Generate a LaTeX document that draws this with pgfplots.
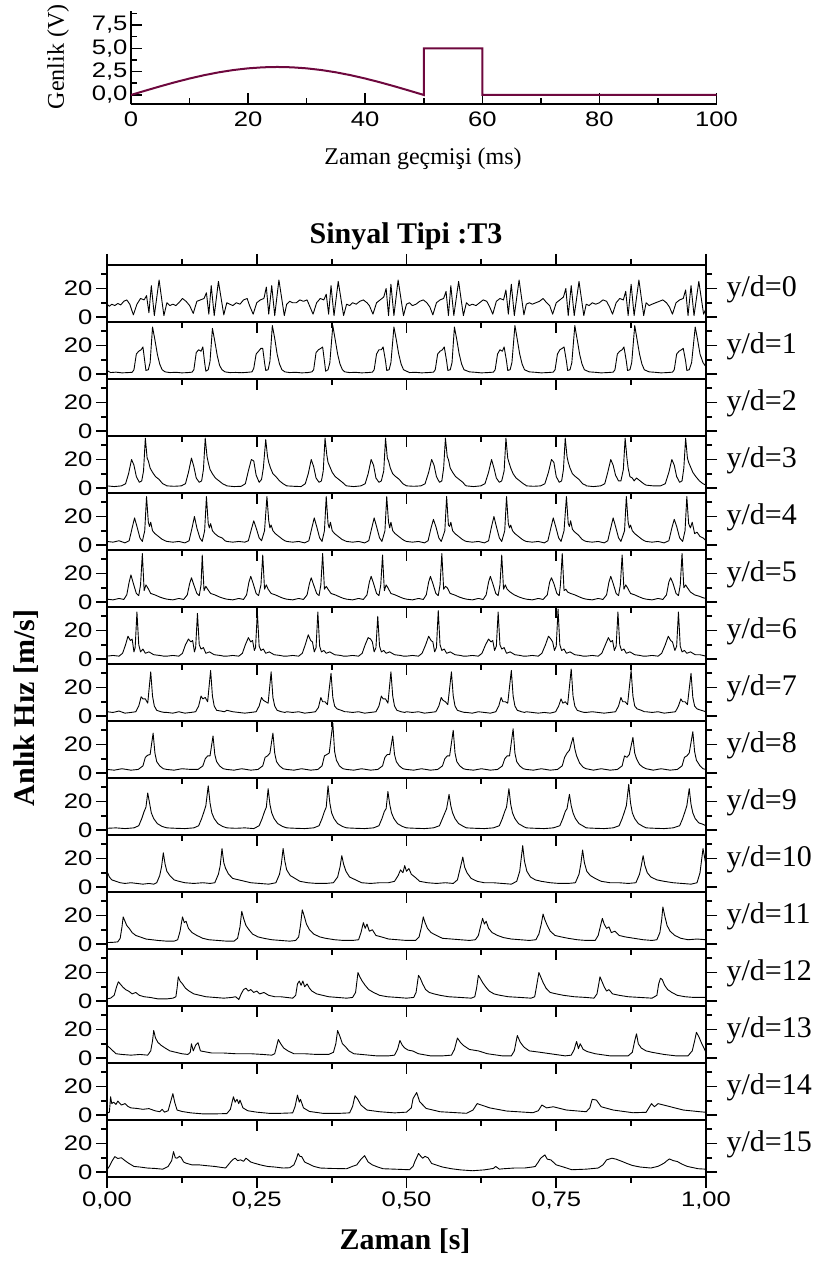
\documentclass[border=0pt]{standalone}
\usepackage{fontspec}
\setmainfont{Liberation Serif}
\newfontfamily\sansf{Liberation Sans}
\usepackage{graphicx}
\usepackage{pgfplots}
\pgfplotsset{compat=1.18}
\definecolor{maroon}{RGB}{110,8,62}
\pgfplotsset{
  panel/.style={
    scale only axis, width=599pt, height=57pt, anchor=south west,
    xmin=0, xmax=1, ymin=-3.5, ymax=36.5,
    xtick={0,0.25,0.5,0.75,1},
    minor xtick={0.125,0.375,0.625,0.875},
    ytick={0,20}, minor ytick={10,30},
    tick align=outside, xtick pos=left, ytick pos=both, yticklabel pos=left,
    major tick length=11pt, minor tick length=6pt,
    axis line style={line width=2.2pt},
    every tick/.style={black, line width=1.8pt},
    tick label style={font=\sansf\fontsize{21}{21}\selectfont},
    /pgf/number format/assume math mode=true,
    yticklabel={\scalebox{1.22}[1]{\pgfmathprintnumber{\tick}}},
    clip=false,
  },
  nolab/.style={xticklabels={}},
  sig/.style={black, line width=0.9pt, line join=round},
}
\newcommand{\yd}[1]{\node[anchor=west, xshift=17pt, font=\fontsize{30}{30}\selectfont] at (rel axis cs:1,0.57) {#1};}
\begin{document}
\begin{tikzpicture}[x=1pt,y=1pt]
\useasboundingbox (0,0) rectangle (819,1262);

% ---------- top excitation plot ----------
\begin{axis}[scale only axis, width=585.5pt, height=93.3pt, at={(131pt,1157.7pt)}, anchor=south west,
  xmin=0, xmax=100, ymin=-1, ymax=9,
  axis x line*=bottom, axis y line*=left, axis line style={line width=2pt,-},
  tick align=inside, xtick={0,20,40,60,80,100}, minor xtick={10,30,50,70,90},
  ytick={0,2.5,5,7.5}, minor ytick={1.25,3.75,6.25,8.75},
  major tick length=11pt, minor tick length=6pt,
  every tick/.style={black, line width=1.6pt},
  tick label style={font=\sansf\fontsize{21}{21}\selectfont},
  xticklabel style={yshift=-4pt},
  /pgf/number format/assume math mode=true,
  xticklabel={\scalebox{1.22}[1]{\pgfmathprintnumber{\tick}}},
  yticklabel={\scalebox{1.22}[1]{\pgfmathprintnumber[fixed,fixed zerofill,precision=1,use comma]{\tick}}},
  clip=false]
\addplot[maroon, line width=2pt] coordinates {(0,0)(2.5,0.469)(5,0.927)(7.5,1.362)(10,1.763)(12.5,2.121)(15,2.427)(17.5,2.673)(20,2.853)(22.5,2.963)(25,3)(27.5,2.963)(30,2.853)(32.5,2.673)(35,2.427)(37.5,2.121)(40,1.763)(42.5,1.362)(45,0.927)(47.5,0.469)(50,0)(50,5)(60,5)(60,0)(100,0)};
\end{axis}

% ---------- panel 0 ----------
\begin{axis}[panel, nolab, xtick pos=both, at={(107pt,940pt)}]
\addplot[sig] coordinates {(0.000,9)(0.004,7.5)(0.008,9)(0.013,8)(0.018,9.5)(0.023,8.5)(0.028,11)(0.033,12)(0.038,9)(0.044,1.5)(0.050,9)(0.056,13)(0.062,12)(0.066,15)(0.070,3)(0.074,22)(0.079,1)(0.087,26)(0.095,1)
(0.100,10)(0.105,8)(0.110,9)(0.115,8)(0.120,10)(0.126,13)(0.132,11)(0.138,8)(0.144,2.5)(0.150,11)(0.156,12)(0.162,13)(0.166,17)(0.170,2)(0.174,22)(0.179,1)(0.186,25)(0.195,1.5)
(0.200,10)(0.205,9)(0.210,8)(0.216,10)(0.222,9)(0.228,12)(0.234,13)(0.238,8)(0.244,2)(0.250,10)(0.256,12)(0.262,13)(0.266,21)(0.270,2)(0.275,22)(0.280,1)(0.287,26)(0.296,1)
(0.300,9)(0.305,11)(0.310,10)(0.316,10)(0.322,12)(0.328,11)(0.334,12)(0.338,8)(0.344,2)(0.350,10)(0.356,13)(0.362,12)(0.366,16)(0.370,2)(0.374,22)(0.379,1)(0.386,25)(0.395,1)
(0.400,9)(0.405,8)(0.410,10)(0.416,9)(0.422,11)(0.428,12)(0.434,10)(0.438,8)(0.444,2)(0.450,10)(0.456,12)(0.462,14)(0.466,20)(0.470,1)(0.474,23)(0.479,1)(0.486,26)(0.495,1)
(0.500,9)(0.505,10)(0.510,8)(0.516,9)(0.522,11)(0.528,12)(0.534,10)(0.539,7)(0.544,1.5)(0.550,10)(0.556,12)(0.562,13)(0.566,18)(0.570,1)(0.574,22)(0.579,1)(0.587,25)(0.595,1)
(0.600,10)(0.605,8)(0.610,9)(0.616,8)(0.622,10)(0.628,12)(0.634,11)(0.639,7)(0.644,2)(0.650,11)(0.656,13)(0.662,12)(0.666,19)(0.670,2)(0.675,23)(0.680,1)(0.688,26)(0.696,1.5)
(0.700,9)(0.705,10)(0.710,9)(0.716,10)(0.722,11)(0.728,13)(0.734,10)(0.739,8)(0.744,2)(0.750,10)(0.756,12)(0.762,14)(0.766,20)(0.770,1)(0.775,22)(0.780,1)(0.788,25)(0.796,1)
(0.800,9)(0.805,8)(0.810,10)(0.816,9)(0.822,10)(0.828,12)(0.834,11)(0.839,7)(0.844,2)(0.850,10)(0.856,13)(0.862,12)(0.866,18)(0.870,1)(0.875,23)(0.880,1)(0.888,26)(0.896,1)
(0.900,10)(0.905,8)(0.910,9)(0.916,10)(0.922,11)(0.928,12)(0.934,10)(0.939,7)(0.944,2)(0.950,10)(0.956,12)(0.962,13)(0.966,19)(0.970,1)(0.975,22)(0.980,1)(0.988,25)(0.996,2)(1.000,6)};
\yd{y/d=0}
\end{axis}

% ---------- panel 1 ----------
\begin{axis}[panel, nolab, at={(107pt,883pt)}]
\addplot[sig] coordinates {(0.000,2.5)(0.006,1)(0.015,1.3)(0.025,0.8)(0.035,1)(0.042,1.2)(0.045,3)(0.049,14)(0.053,16)(0.057,17)(0.060,19)(0.063,9)(0.065,2.5)(0.069,3)(0.072,8)(0.076,33)(0.080,24)(0.084,14)(0.088,7)(0.092,3)(0.097,1.5)
(0.105,1)(0.115,1.2)(0.125,0.8)(0.135,1)(0.142,1.3)(0.145,3)(0.149,15)(0.153,17)(0.157,16)(0.160,19)(0.163,8)(0.165,2)(0.169,3)(0.172,9)(0.176,32)(0.180,23)(0.184,13)(0.188,6)(0.192,3)(0.197,1.5)
(0.205,1)(0.215,1.1)(0.225,0.9)(0.235,1.2)(0.242,1.5)(0.245,4)(0.249,14)(0.253,16)(0.257,18)(0.260,18)(0.263,8)(0.265,2.5)(0.269,3)(0.272,9)(0.276,34)(0.280,25)(0.284,14)(0.288,7)(0.292,3)(0.297,1.5)
(0.305,1)(0.315,1.2)(0.325,0.8)(0.335,1)(0.342,1.5)(0.345,3)(0.349,15)(0.353,17)(0.357,18)(0.360,19)(0.363,9)(0.365,2)(0.369,3)(0.372,8)(0.377,34)(0.381,24)(0.385,14)(0.389,7)(0.393,3)(0.397,1.5)
(0.405,1)(0.415,1.2)(0.425,0.8)(0.435,1)(0.443,1.3)(0.446,3)(0.450,14)(0.454,17)(0.458,17)(0.461,19)(0.465,9)(0.467,2.5)(0.471,3)(0.474,8)(0.479,33)(0.483,24)(0.487,14)(0.491,7)(0.495,3)
(0.505,1)(0.515,1.2)(0.525,0.8)(0.535,1)(0.545,1.3)(0.548,3)(0.552,14)(0.556,16)(0.560,17)(0.563,19)(0.567,9)(0.569,2.5)(0.573,3)(0.576,8)(0.580,33)(0.584,24)(0.588,14)(0.592,7)(0.596,3)
(0.605,1.5)(0.615,1.2)(0.625,0.8)(0.635,1)(0.645,1.3)(0.648,3)(0.652,14)(0.656,17)(0.660,16)(0.663,19)(0.667,9)(0.669,2.5)(0.673,3)(0.676,8)(0.681,34)(0.685,24)(0.689,14)(0.693,7)(0.697,3)
(0.705,1.5)(0.715,1.2)(0.725,0.8)(0.735,1)(0.745,1.3)(0.748,3)(0.752,14)(0.756,17)(0.760,18)(0.763,19)(0.767,9)(0.769,2.5)(0.773,3)(0.776,8)(0.781,34)(0.785,24)(0.789,14)(0.793,7)(0.797,3)
(0.805,1.5)(0.815,1.2)(0.825,0.8)(0.835,1)(0.845,1.3)(0.848,3)(0.852,14)(0.856,16)(0.860,17)(0.863,19)(0.867,9)(0.869,2.5)(0.873,3)(0.876,8)(0.881,34)(0.885,24)(0.889,14)(0.893,7)(0.897,3)
(0.905,1.5)(0.915,1.2)(0.925,0.8)(0.935,1)(0.944,1.3)(0.947,3)(0.951,14)(0.955,16)(0.959,17)(0.962,18)(0.966,9)(0.968,2.5)(0.972,3)(0.976,8)(0.982,33)(0.986,24)(0.990,14)(0.995,8)(1.000,5)};
\yd{y/d=1}
\end{axis}

% ---------- panel 2 (no data) ----------
\begin{axis}[panel, nolab, at={(107pt,826pt)}]
\yd{y/d=2}
\end{axis}

% ---------- panel 3 ----------
\begin{axis}[panel, nolab, at={(107pt,769pt)}]
\addplot[sig] coordinates {(0.000,1.5)(0.012,1)(0.024,1.5)(0.031,3)(0.036,10)(0.041,20)(0.045,16)(0.049,8)(0.054,4)(0.058,5)(0.061,12)(0.064,35)(0.067,21)(0.069,19)(0.072,14)(0.076,11)(0.081,8)(0.087,6)(0.093,3)(0.098,2)
(0.100,1.5)(0.112,1.2)(0.124,1.5)(0.131,3)(0.136,11)(0.141,21)(0.145,15)(0.149,7)(0.154,4)(0.158,5)(0.161,13)(0.164,35)(0.167,22)(0.169,18)(0.172,13)(0.176,10)(0.181,7)(0.187,5)(0.193,3)(0.198,2)
(0.200,1.5)(0.212,1)(0.224,1.2)(0.231,3)(0.236,12)(0.241,20)(0.245,19)(0.249,9)(0.254,4)(0.258,6)(0.261,14)(0.265,34)(0.268,22)(0.270,18)(0.273,14)(0.277,10)(0.282,8)(0.288,5)(0.294,3)(0.298,2)
(0.300,1.5)(0.312,1.2)(0.324,1)(0.331,3)(0.336,10)(0.341,20)(0.345,15)(0.349,7)(0.354,4)(0.358,5)(0.361,12)(0.364,35)(0.367,23)(0.369,18)(0.372,15)(0.376,11)(0.381,8)(0.387,6)(0.393,4)(0.398,2)
(0.400,1.5)(0.412,1)(0.424,1.5)(0.431,3)(0.436,10)(0.441,20)(0.445,16)(0.449,7)(0.454,4)(0.458,5)(0.462,12)(0.465,35)(0.468,21)(0.470,19)(0.473,14)(0.477,10)(0.482,8)(0.488,6)(0.494,3)(0.498,2)
(0.500,1.5)(0.512,1.2)(0.524,1.5)(0.531,3)(0.537,11)(0.542,20)(0.546,16)(0.550,8)(0.555,4)(0.559,5)(0.562,14)(0.565,35)(0.568,22)(0.570,20)(0.573,14)(0.577,11)(0.582,8)(0.588,6)(0.594,4)(0.598,2)
(0.600,1.5)(0.612,1)(0.624,1.5)(0.631,3)(0.637,11)(0.642,20)(0.646,14)(0.650,7)(0.655,4)(0.659,5)(0.663,12)(0.666,35)(0.669,21)(0.671,18)(0.674,14)(0.678,10)(0.683,7)(0.689,5)(0.695,3)(0.699,2)
(0.700,1.5)(0.712,1.2)(0.724,1.5)(0.731,3)(0.737,11)(0.742,20)(0.746,18)(0.750,8)(0.755,4)(0.759,5)(0.762,13)(0.765,35)(0.768,22)(0.770,18)(0.773,14)(0.777,10)(0.782,8)(0.788,6)(0.794,3)(0.799,2)
(0.800,1.5)(0.812,1)(0.824,1.5)(0.831,3)(0.836,11)(0.841,20)(0.845,16)(0.849,9)(0.854,5)(0.858,5)(0.862,13)(0.865,35)(0.868,21)(0.870,14)(0.873,8)(0.877,7)(0.880,5)(0.884,7)(0.890,5)(0.896,3)
(0.900,2)(0.912,1.5)(0.924,1.5)(0.932,3)(0.938,11)(0.943,20)(0.947,16)(0.951,8)(0.956,4)(0.960,5)(0.963,14)(0.966,35)(0.969,21)(0.971,18)(0.974,15)(0.978,11)(0.983,8)(0.989,5)(0.995,3)(1.000,2)};
\yd{y/d=3}
\end{axis}

% ---------- panel 4 ----------
\begin{axis}[panel, nolab, at={(107pt,712pt)}]
\addplot[sig] coordinates {(0.000,2.5)(0.010,2)(0.020,3)(0.030,1.5)(0.037,3)(0.042,12)(0.046,19)(0.050,13)(0.055,5)(0.059,2.5)(0.063,10)(0.066,34)(0.069,16)(0.071,13)(0.073,16)(0.076,10)(0.080,8)(0.086,6)(0.092,4)(0.097,3)
(0.100,2.5)(0.110,2)(0.120,2.5)(0.130,1.5)(0.137,3)(0.142,12)(0.146,20)(0.150,12)(0.155,5)(0.159,2.5)(0.163,10)(0.166,34)(0.169,15)(0.171,12)(0.173,15)(0.176,10)(0.180,8)(0.186,6)(0.192,5)(0.197,3)
(0.200,2.5)(0.210,2)(0.220,2.5)(0.230,2)(0.236,3)(0.241,11)(0.245,17)(0.249,12)(0.254,5)(0.258,3)(0.263,10)(0.267,34)(0.270,17)(0.272,12)(0.274,14)(0.277,10)(0.281,8)(0.287,6)(0.293,4)(0.297,3)
(0.300,2.5)(0.310,2)(0.320,2.5)(0.330,1.5)(0.337,3)(0.342,12)(0.346,19)(0.350,13)(0.355,5)(0.359,2.5)(0.363,10)(0.366,34)(0.369,15)(0.371,12)(0.373,16)(0.376,10)(0.380,8)(0.386,6)(0.392,4)(0.397,3)
(0.400,2.5)(0.410,2)(0.420,2.5)(0.430,1.5)(0.437,3)(0.442,12)(0.446,19)(0.450,13)(0.455,5)(0.459,2.5)(0.464,10)(0.467,34)(0.470,16)(0.472,12)(0.474,16)(0.477,10)(0.481,8)(0.487,6)(0.493,4)(0.497,3)
(0.500,2.5)(0.510,2)(0.520,2.5)(0.530,1.5)(0.536,3)(0.541,12)(0.545,18)(0.549,13)(0.554,5)(0.558,2.5)(0.564,10)(0.567,34)(0.570,14)(0.572,13)(0.574,16)(0.577,10)(0.581,8)(0.587,6)(0.593,4)(0.597,3)
(0.600,2.5)(0.610,2)(0.620,2.5)(0.630,1.5)(0.637,3)(0.642,13)(0.646,20)(0.650,13)(0.655,5)(0.659,2.5)(0.664,10)(0.667,34)(0.670,15)(0.672,12)(0.674,14)(0.677,10)(0.681,8)(0.687,6)(0.693,4)(0.697,3)
(0.700,2.5)(0.710,2)(0.720,2.5)(0.730,1.5)(0.736,3)(0.741,12)(0.745,19)(0.749,13)(0.754,5)(0.758,2.5)(0.763,10)(0.767,34)(0.770,15)(0.772,13)(0.774,17)(0.777,11)(0.781,9)(0.787,7)(0.793,4)(0.797,3)
(0.800,2.5)(0.810,2)(0.820,2.5)(0.830,1.5)(0.836,3)(0.841,12)(0.845,19)(0.849,13)(0.854,5)(0.858,2.5)(0.864,10)(0.867,34)(0.870,16)(0.872,12)(0.874,14)(0.877,10)(0.881,8)(0.887,6)(0.893,4)(0.897,3)
(0.900,2.5)(0.910,2)(0.920,2.5)(0.930,1.5)(0.938,3)(0.943,12)(0.947,18)(0.951,13)(0.956,5)(0.961,2.5)(0.965,10)(0.968,34)(0.971,15)(0.974,12)(0.977,16)(0.981,8)(0.985,9)(0.990,6)(0.995,5)(1.000,3)};
\yd{y/d=4}
\end{axis}

% ---------- panel 5 ----------
\begin{axis}[panel, nolab, at={(107pt,655pt)}]
\addplot[sig] coordinates {(0.000,2)(0.010,1.5)(0.020,2.5)(0.028,1.8)(0.033,5)(0.037,14)(0.040,19)(0.044,13)(0.049,6)(0.053,4.5)(0.056,12)(0.059,34)(0.062,8)(0.065,12)(0.068,10)(0.073,6)(0.080,5)(0.088,3.5)(0.095,2.5)
(0.100,2)(0.110,1.5)(0.120,2.5)(0.128,1.8)(0.134,5)(0.138,13)(0.141,17)(0.145,12)(0.150,6)(0.154,4.5)(0.157,12)(0.159,33)(0.162,8)(0.165,11)(0.168,9)(0.173,6)(0.180,5)(0.188,3.5)(0.195,2.5)
(0.200,2)(0.210,1.5)(0.220,2.5)(0.228,1.8)(0.233,5)(0.237,14)(0.240,18)(0.244,13)(0.249,6)(0.253,4.5)(0.257,12)(0.260,33)(0.263,9)(0.266,12)(0.269,9)(0.274,6)(0.281,5)(0.289,3.5)(0.295,2.5)
(0.300,2)(0.310,1.5)(0.320,2.5)(0.328,1.8)(0.334,5)(0.338,13)(0.341,17)(0.345,12)(0.350,6)(0.354,4.5)(0.357,12)(0.360,34)(0.363,9)(0.366,11)(0.369,9)(0.374,6)(0.381,5)(0.389,3.5)(0.395,2.5)
(0.400,2)(0.410,1.5)(0.420,2.5)(0.428,1.8)(0.434,5)(0.438,14)(0.441,18)(0.445,13)(0.450,6)(0.454,4.5)(0.457,12)(0.460,33)(0.463,8)(0.466,12)(0.469,10)(0.474,6)(0.481,5)(0.489,3.5)(0.495,2.5)
(0.500,2)(0.510,1.5)(0.520,2.5)(0.528,1.8)(0.533,5)(0.537,14)(0.540,18)(0.544,13)(0.549,6)(0.553,4.5)(0.556,12)(0.559,34)(0.562,9)(0.565,11)(0.568,10)(0.573,6)(0.580,5)(0.588,3.5)(0.595,2.5)
(0.600,2)(0.610,1.5)(0.620,2.5)(0.628,1.8)(0.633,5)(0.637,14)(0.640,18)(0.644,13)(0.649,6)(0.653,4.5)(0.656,12)(0.659,33)(0.662,9)(0.665,12)(0.668,9)(0.673,7)(0.680,5)(0.688,3.5)(0.695,2.5)
(0.700,2)(0.710,1.5)(0.720,2.5)(0.728,1.8)(0.735,5)(0.739,14)(0.742,17)(0.746,13)(0.751,6)(0.755,4.5)(0.757,12)(0.760,34)(0.763,8)(0.766,9)(0.769,7)(0.774,6)(0.781,5)(0.789,3.5)(0.795,2.5)
(0.800,2)(0.810,1.5)(0.820,2.5)(0.828,1.8)(0.834,5)(0.838,14)(0.841,18)(0.845,13)(0.850,6)(0.854,4.5)(0.857,12)(0.860,33)(0.863,9)(0.866,12)(0.869,10)(0.874,6)(0.881,5)(0.889,3.5)(0.895,2.5)
(0.900,2)(0.910,1.5)(0.920,2.5)(0.928,1.8)(0.934,5)(0.938,14)(0.941,17)(0.945,13)(0.950,6)(0.954,4.5)(0.957,12)(0.960,34)(0.963,10)(0.966,12)(0.969,10)(0.974,7)(0.981,5)(0.989,4)(0.995,3)(1.000,2.5)};
\yd{y/d=5}
\end{axis}

% ---------- panel 6 ----------
\begin{axis}[panel, nolab, at={(107pt,598pt)}]
\addplot[sig] coordinates {(0.000,2)(0.010,2.5)(0.020,2)(0.026,4)(0.031,10)(0.035,16)(0.039,13)(0.042,14)(0.045,5)(0.047,8)(0.050,33)(0.053,10)(0.056,5)(0.060,7)(0.064,4)(0.070,5)(0.078,3)(0.088,2.5)(0.095,2)
(0.100,2)(0.110,2.5)(0.120,2)(0.126,4)(0.131,10)(0.136,14)(0.140,12)(0.143,13)(0.146,5)(0.148,8)(0.151,32)(0.154,10)(0.157,7)(0.161,8)(0.165,4)(0.171,5)(0.179,3)(0.189,2.5)(0.195,2)
(0.200,2)(0.210,2.5)(0.220,2)(0.226,4)(0.231,10)(0.236,15)(0.240,12)(0.243,13)(0.246,6)(0.248,8)(0.251,33)(0.254,9)(0.257,6)(0.261,7)(0.265,4)(0.271,5)(0.279,3)(0.289,2.5)(0.295,2)
(0.300,2)(0.310,2.5)(0.320,2)(0.326,4)(0.331,10)(0.336,17)(0.340,13)(0.343,12)(0.346,5)(0.349,8)(0.352,33)(0.355,9)(0.358,5)(0.362,6)(0.366,4)(0.372,5)(0.380,3)(0.390,2.5)(0.395,2)
(0.400,2)(0.410,2.5)(0.420,2)(0.426,4)(0.431,10)(0.436,15)(0.440,14)(0.443,12)(0.446,5)(0.449,8)(0.452,30)(0.455,9)(0.458,5)(0.462,6)(0.466,4)(0.472,5)(0.480,3)(0.490,2.5)(0.495,2)
(0.500,2)(0.510,2.5)(0.520,2)(0.526,4)(0.532,10)(0.537,16)(0.541,13)(0.544,12)(0.547,5)(0.550,8)(0.553,34)(0.556,10)(0.559,6)(0.563,7)(0.567,4)(0.573,5)(0.581,3)(0.590,2.5)(0.595,2)
(0.600,2)(0.610,2.5)(0.620,2)(0.626,4)(0.632,10)(0.637,14)(0.641,12)(0.644,13)(0.647,6)(0.650,9)(0.653,33)(0.656,10)(0.659,7)(0.663,8)(0.667,4)(0.673,5)(0.681,3)(0.690,2.5)(0.695,2)
(0.700,2)(0.710,2.5)(0.720,2)(0.726,4)(0.732,10)(0.737,16)(0.741,14)(0.744,12)(0.747,6)(0.750,9)(0.753,35)(0.756,10)(0.759,6)(0.763,7)(0.767,4)(0.773,5)(0.781,3)(0.790,2.5)(0.795,2)
(0.800,2)(0.810,2.5)(0.820,2)(0.826,4)(0.832,10)(0.837,15)(0.841,12)(0.844,13)(0.847,6)(0.850,9)(0.853,33)(0.856,10)(0.859,6)(0.863,7)(0.867,4)(0.873,5)(0.881,3)(0.890,2.5)(0.895,2)
(0.900,2)(0.910,2.5)(0.920,2)(0.926,4)(0.932,10)(0.937,16)(0.941,13)(0.944,12)(0.948,6)(0.951,9)(0.954,33)(0.957,9)(0.960,5)(0.964,6)(0.968,4)(0.974,5)(0.982,3)(0.990,3)(1.000,2)};
\yd{y/d=6}
\end{axis}

% ---------- panel 7 ----------
\begin{axis}[panel, nolab, at={(107pt,541pt)}]
\addplot[sig] coordinates {(0.000,3)(0.010,2.5)(0.020,3.5)(0.030,2)(0.040,2.5)(0.048,3)(0.053,7)(0.057,13.5)(0.060,12)(0.064,12)(0.068,9)(0.073,31)(0.076,14)(0.079,7)(0.083,4)(0.090,3)(0.096,2.5)
(0.100,2.5)(0.110,2)(0.120,3)(0.130,2)(0.140,2.5)(0.148,3)(0.153,7)(0.157,14)(0.160,12)(0.164,13)(0.168,10)(0.173,32)(0.176,14)(0.179,7)(0.183,4)(0.190,3.5)(0.196,3)
(0.200,4)(0.210,3)(0.220,2.5)(0.230,2)(0.240,2.5)(0.249,3)(0.254,7)(0.258,13)(0.261,11)(0.265,10)(0.269,9)(0.274,31)(0.277,13)(0.280,7)(0.284,4)(0.291,3)(0.297,2.5)
(0.300,3)(0.310,2.5)(0.320,3)(0.330,2)(0.340,2.5)(0.348,3)(0.353,6)(0.357,13)(0.360,10)(0.364,10)(0.368,8)(0.374,30)(0.377,13)(0.380,7)(0.384,5)(0.391,4)(0.397,3)
(0.400,3)(0.410,2.5)(0.420,3)(0.430,2)(0.440,2.5)(0.449,3)(0.454,7)(0.458,14)(0.461,12)(0.465,12)(0.469,9)(0.474,31)(0.477,14)(0.480,7)(0.484,4)(0.491,3)(0.497,2.5)
(0.500,3)(0.510,2.5)(0.520,3)(0.530,2)(0.540,2.5)(0.549,3)(0.554,7)(0.558,13)(0.561,11)(0.565,10)(0.569,8)(0.575,31)(0.578,14)(0.581,7)(0.585,4)(0.592,3)(0.597,2.5)
(0.600,2.5)(0.610,2)(0.620,3)(0.630,2.5)(0.640,2)(0.649,3)(0.654,7)(0.658,13)(0.661,10)(0.665,10)(0.669,9)(0.675,32)(0.678,14)(0.681,7)(0.685,4)(0.692,3)(0.697,2.5)
(0.700,3)(0.710,2.5)(0.720,2)(0.730,2.5)(0.740,2)(0.749,3)(0.754,7)(0.758,12)(0.761,9)(0.765,10)(0.769,8)(0.775,33)(0.778,14)(0.781,7)(0.785,4)(0.792,3)(0.797,2.5)
(0.800,2.5)(0.810,3)(0.820,2.5)(0.830,2)(0.840,2.5)(0.849,3)(0.854,7)(0.858,13)(0.861,10)(0.865,10)(0.869,8)(0.875,32)(0.878,14)(0.881,7)(0.885,5)(0.892,4)(0.897,3)
(0.900,3)(0.910,2.5)(0.920,3)(0.930,2)(0.940,2.5)(0.949,3)(0.954,7)(0.958,12)(0.961,10)(0.965,10)(0.969,8)(0.975,30)(0.978,13)(0.981,7)(0.985,5)(0.992,4)(1.000,3)};
\yd{y/d=7}
\end{axis}

% ---------- panel 8 ----------
\begin{axis}[panel, nolab, at={(107pt,484pt)}]
\addplot[sig] coordinates {(0.000,2.5)(0.012,2)(0.025,3)(0.040,2)(0.052,2.5)(0.060,5)(0.064,11)(0.068,12.5)(0.072,13)(0.077,28)(0.080,14)(0.083,8)(0.088,5)(0.094,3)
(0.100,2.5)(0.112,2)(0.125,3)(0.140,2.5)(0.152,2.5)(0.160,5)(0.164,10)(0.168,12)(0.172,12)(0.177,26)(0.180,13)(0.183,8)(0.188,5)(0.194,3)
(0.200,2.5)(0.212,2)(0.225,3)(0.240,2)(0.252,2.5)(0.260,5)(0.264,11)(0.268,12)(0.272,14)(0.277,28)(0.280,14)(0.283,8)(0.288,5)(0.294,3)
(0.300,2.5)(0.312,2)(0.325,3)(0.340,2)(0.352,2.5)(0.359,5)(0.363,12)(0.367,13)(0.371,14)(0.377,35)(0.380,15)(0.383,9)(0.388,5)(0.394,3)
(0.400,2.5)(0.412,2)(0.425,3)(0.440,2)(0.452,2.5)(0.460,5)(0.464,11)(0.468,13)(0.472,13)(0.477,26)(0.480,13)(0.483,8)(0.488,5)(0.494,3)
(0.500,2.5)(0.512,2)(0.525,3)(0.540,2)(0.552,2.5)(0.560,5)(0.564,10)(0.568,12)(0.572,12)(0.578,30)(0.581,14)(0.584,8)(0.589,5)(0.595,3)
(0.600,2.5)(0.612,2)(0.625,3)(0.640,2)(0.652,2.5)(0.660,5)(0.664,10)(0.668,12)(0.672,12)(0.678,31)(0.681,14)(0.684,8)(0.689,5)(0.695,3)
(0.700,2.5)(0.712,2)(0.725,3)(0.740,2)(0.752,2.5)(0.760,5)(0.764,11)(0.768,14)(0.772,16)(0.778,25)(0.781,17)(0.784,12)(0.789,7)(0.795,4)
(0.800,3)(0.812,2)(0.825,3)(0.840,2)(0.852,2.5)(0.860,5)(0.864,12)(0.868,11)(0.872,13)(0.878,25)(0.881,14)(0.884,10)(0.889,6)(0.895,4)
(0.900,3)(0.912,2)(0.925,3)(0.940,2)(0.952,2.5)(0.960,5)(0.964,11)(0.968,12)(0.972,14)(0.978,29)(0.981,15)(0.984,9)(0.990,5)(0.995,3)(1.000,2.5)};
\yd{y/d=8}
\end{axis}

% ---------- panel 9 ----------
\begin{axis}[panel, nolab, at={(107pt,427pt)}]
\addplot[sig] coordinates {(0.000,1.2)(0.015,1.5)(0.030,1)(0.045,1.5)(0.053,3)(0.058,8)(0.062,13)(0.065,16)(0.068,26)(0.071,19)(0.074,12)(0.078,8)(0.084,4.5)(0.092,2.5)
(0.100,1.5)(0.115,1.2)(0.130,1)(0.145,1.5)(0.153,3)(0.158,8)(0.162,13)(0.165,17)(0.169,31)(0.172,19)(0.175,12)(0.179,8)(0.185,4.5)(0.193,2.5)
(0.200,1.5)(0.215,1.2)(0.230,1.5)(0.245,1)(0.254,3)(0.259,8)(0.263,13)(0.266,16)(0.269,29)(0.272,18)(0.275,12)(0.279,8)(0.285,4.5)(0.293,2.5)
(0.300,1.5)(0.315,1.2)(0.330,1)(0.345,1.5)(0.354,3)(0.359,8)(0.363,13)(0.366,16)(0.369,31)(0.372,19)(0.375,12)(0.379,8)(0.385,4.5)(0.393,2.5)
(0.400,1.5)(0.415,1.2)(0.430,1)(0.445,1.5)(0.454,3)(0.459,8)(0.463,13)(0.466,15)(0.469,27)(0.472,18)(0.475,12)(0.479,8)(0.485,4.5)(0.493,2.5)
(0.500,1.5)(0.515,1.2)(0.530,1)(0.545,1.5)(0.555,3)(0.560,8)(0.564,12)(0.567,15)(0.571,25)(0.574,17)(0.577,12)(0.581,8)(0.587,4.5)(0.595,2.5)
(0.600,1.5)(0.615,1.2)(0.630,1)(0.645,1.5)(0.655,3)(0.660,8)(0.664,13)(0.667,16)(0.671,29)(0.674,18)(0.677,12)(0.681,8)(0.687,4.5)(0.695,2.5)
(0.700,1.5)(0.715,1.2)(0.730,1)(0.745,1.5)(0.756,3)(0.761,8)(0.765,13)(0.768,15)(0.772,25)(0.775,17)(0.778,12)(0.782,8)(0.788,4.5)(0.796,2.5)
(0.800,1.5)(0.815,1.2)(0.830,1)(0.845,1.5)(0.855,3)(0.860,8)(0.864,13)(0.867,17)(0.871,32)(0.874,19)(0.877,12)(0.881,8)(0.887,4.5)(0.895,2.5)
(0.900,1.5)(0.915,1.2)(0.930,1)(0.945,1.5)(0.956,3)(0.961,8)(0.965,13)(0.968,17)(0.972,29)(0.975,18)(0.978,12)(0.982,8)(0.988,5)(0.995,4)(1.000,3)};
\yd{y/d=9}
\end{axis}

% ---------- panel 10 ----------
\begin{axis}[panel, nolab, at={(107pt,370pt)}]
\addplot[sig] coordinates {(0,11)(0.004,7)(0.008,5)(0.015,4)(0.022,3)(0.030,2.5)(0.040,3)(0.050,2.5)(0.060,2)(0.070,2.5)(0.078,2)(0.083,3)(0.088,8)(0.091,14)(0.094,24)(0.097,16)(0.100,11)(0.105,8)(0.112,5)(0.120,4)(0.130,3)(0.145,2.5)(0.160,3)(0.172,2.5)(0.180,3)(0.186,9)(0.189,15)(0.192,27)(0.195,17)(0.198,13)(0.203,9)(0.210,6)(0.220,5)(0.230,4)(0.240,3)(0.255,2.5)(0.270,2)(0.282,3)(0.288,9)(0.291,16)(0.294,27)(0.297,18)(0.300,12)(0.306,8)(0.314,6)(0.322,4)(0.335,3)(0.350,2.5)(0.365,2.5)(0.378,3)(0.385,7)(0.389,14)(0.392,22)(0.395,16)(0.399,11)(0.405,7)(0.415,5)(0.425,3)(0.440,2.5)(0.455,3)(0.470,3)(0.480,4)(0.486,8)(0.490,12)(0.494,10)(0.497,15)(0.500,11)(0.504,13)(0.508,9)(0.514,7)(0.522,4)(0.535,3)(0.550,2.5)(0.565,3)(0.578,2.5)(0.585,5)(0.589,12)(0.594,21)(0.597,14)(0.601,10)(0.608,6)(0.618,4)(0.630,3)(0.645,3)(0.660,2.5)(0.675,2)(0.684,4)(0.689,11)(0.694,29)(0.697,18)(0.701,11)(0.707,7)(0.715,5)(0.725,4)(0.740,3)(0.755,2.5)(0.770,2.5)(0.782,3)(0.788,9)(0.791,16)(0.794,26)(0.797,17)(0.801,11)(0.807,8)(0.815,6)(0.825,4)(0.840,3)(0.855,3)(0.870,2.5)(0.883,3)(0.889,9)(0.892,15)(0.895,22)(0.898,15)(0.902,10)(0.908,7)(0.918,5)(0.930,4)(0.945,3)(0.960,2.5)(0.975,2)(0.985,3)(0.990,10)(0.995,27)(0.998,20)(1.000,15)};
\yd{y/d=10}
\end{axis}

% ---------- panel 11 ----------
\begin{axis}[panel, nolab, at={(107pt,313pt)}]
\addplot[sig] coordinates {(0,1)(0.010,1.2)(0.018,1.5)(0.022,4)(0.025,12)(0.027,19)(0.030,16)(0.033,13)(0.037,11)(0.042,8)(0.048,6)(0.055,5)(0.065,3.5)(0.075,3)(0.085,2.5)(0.100,2)(0.112,2)(0.118,3)(0.122,9)(0.126,19)(0.129,15)(0.132,16)(0.136,11)(0.142,8)(0.150,6)(0.160,4)(0.170,3)(0.185,2.5)(0.200,2)(0.212,2)(0.218,4)(0.222,12)(0.225,23)(0.228,18)(0.232,13)(0.237,10)(0.243,7)(0.252,5)(0.262,4)(0.275,3)(0.290,2.5)(0.305,2)(0.315,2.5)(0.320,5)(0.323,13)(0.326,24)(0.329,20)(0.333,14)(0.338,10)(0.345,7)(0.355,5)(0.365,4)(0.380,3)(0.395,2.5)(0.410,2.5)(0.420,3)(0.424,8)(0.428,15)(0.431,11)(0.434,14)(0.438,9)(0.443,10)(0.449,6)(0.458,5)(0.470,3.5)(0.485,3)(0.500,2.5)(0.515,2.5)(0.521,5)(0.525,12)(0.528,19)(0.531,15)(0.535,11)(0.541,8)(0.550,6)(0.560,4)(0.575,3.5)(0.590,3)(0.605,2.5)(0.615,3)(0.620,6)(0.624,13)(0.627,18)(0.630,14)(0.633,16)(0.637,11)(0.643,8)(0.652,6)(0.662,4.5)(0.675,3.5)(0.690,3)(0.705,2.5)(0.716,3)(0.721,7)(0.725,14)(0.728,21)(0.731,17)(0.735,13)(0.740,9)(0.748,6)(0.758,5)(0.770,4)(0.785,3)(0.800,2.5)(0.815,2.5)(0.820,6)(0.824,13)(0.827,18)(0.830,14)(0.834,11)(0.838,12)(0.842,8)(0.848,9)(0.855,6)(0.865,5)(0.880,4)(0.895,3)(0.910,2.5)(0.918,3)(0.923,8)(0.926,17)(0.928,26)(0.931,20)(0.935,13)(0.940,9)(0.948,6)(0.958,4)(0.970,3)(0.985,3.5)(1.000,3)};
\yd{y/d=11}
\end{axis}

% ---------- panel 12 ----------
\begin{axis}[panel, nolab, at={(107pt,256pt)}]
\addplot[sig] coordinates {(0,1.5)(0.006,2)(0.012,4)(0.016,10)(0.019,13.5)(0.022,12)(0.026,10)(0.031,8)(0.036,7)(0.042,5)(0.048,6)(0.054,4)(0.062,3)(0.072,2.5)(0.085,1.5)(0.100,1.5)(0.110,2)(0.115,3)(0.117,9)(0.119,17)(0.122,14)(0.126,12)(0.131,9)(0.137,7)(0.145,5)(0.155,4)(0.165,3)(0.180,2.5)(0.195,2)(0.208,2.5)(0.215,3)(0.220,1)(0.224,5)(0.228,8)(0.232,9)(0.236,7)(0.240,8)(0.245,6)(0.250,7)(0.255,5)(0.262,6)(0.270,4)(0.280,3)(0.290,3)(0.300,2.5)(0.310,2)(0.315,4)(0.318,12)(0.321,14)(0.324,11)(0.327,14)(0.330,10)(0.334,12)(0.338,9)(0.342,7)(0.350,5)(0.360,4)(0.370,3)(0.385,2.5)(0.400,2)(0.410,2.5)(0.415,6)(0.419,20)(0.422,17)(0.426,14)(0.431,11)(0.437,8)(0.445,6)(0.455,4)(0.468,3)(0.485,2.5)(0.500,2)(0.512,2.5)(0.516,6)(0.520,18)(0.523,16)(0.527,12)(0.532,8)(0.538,6)(0.546,5)(0.556,4)(0.570,3)(0.590,2.5)(0.608,2)(0.614,3)(0.617,9)(0.620,18)(0.623,16)(0.627,13)(0.632,10)(0.638,7)(0.646,5)(0.656,4)(0.670,3)(0.690,2.5)(0.708,2)(0.714,3)(0.717,10)(0.721,20)(0.724,17)(0.728,13)(0.733,9)(0.740,6)(0.750,5)(0.762,4)(0.780,3)(0.800,2.5)(0.813,2)(0.818,5)(0.821,12)(0.823,17)(0.826,14)(0.830,10)(0.834,7)(0.838,8)(0.844,5)(0.855,4)(0.870,3)(0.890,2.5)(0.910,2)(0.918,4)(0.921,12)(0.924,16)(0.927,15)(0.931,11)(0.936,8)(0.943,6)(0.952,4)(0.965,3)(0.980,2.5)(1.000,2.5)};
\yd{y/d=12}
\end{axis}

% ---------- panel 13 ----------
\begin{axis}[panel, nolab, at={(107pt,199pt)}]
\addplot[sig] coordinates {(0,8.8)(0.005,7)(0.010,5)(0.015,3)(0.025,2.5)(0.040,2)(0.055,2.5)(0.068,2)(0.073,5)(0.076,12)(0.078,19.3)(0.081,14)(0.085,11)(0.090,9)(0.097,7)(0.105,5)(0.115,4)(0.125,3)(0.135,2.5)(0.139,4)(0.141,10)(0.144,5)(0.148,9)(0.152,10.7)(0.156,5)(0.162,4.5)(0.175,3.5)(0.195,3.5)(0.215,3)(0.240,3)(0.260,2.5)(0.275,2)(0.280,3)(0.283,8)(0.286,13)(0.290,10)(0.295,7)(0.302,5)(0.312,3)(0.330,3)(0.350,2.5)(0.370,2.5)(0.378,4)(0.382,10)(0.385,19.3)(0.389,15)(0.393,10)(0.398,8)(0.404,5)(0.412,3)(0.425,2.5)(0.450,1.5)(0.470,1.5)(0.480,2)(0.485,6)(0.489,12.3)(0.493,9)(0.497,7)(0.503,5.5)(0.510,5)(0.520,3)(0.540,1.5)(0.560,1.5)(0.575,2)(0.580,6)(0.585,14)(0.590,11)(0.595,8.8)(0.605,6)(0.620,5)(0.635,3)(0.660,1.5)(0.675,1.5)(0.680,5)(0.685,15.8)(0.690,11)(0.696,7.7)(0.705,5)(0.720,4.2)(0.740,3)(0.765,1.5)(0.775,2)(0.780,6)(0.782,9)(0.784,11.6)(0.787,6.5)(0.790,10)(0.795,6)(0.802,4.5)(0.815,3)(0.840,1.5)(0.870,1.5)(0.877,4)(0.881,12)(0.884,17)(0.887,10)(0.892,7)(0.900,5)(0.910,4)(0.930,2.5)(0.950,1.5)(0.970,1.5)(0.977,5)(0.981,12)(0.984,18)(0.988,15)(0.993,10)(1.000,4)};
\yd{y/d=13}
\end{axis}

% ---------- panel 14 ----------
\begin{axis}[panel, nolab, at={(107pt,142pt)}]
\addplot[sig] coordinates {(0,1.2)(0.004,2)(0.006,12.8)(0.008,8)(0.011,9)(0.015,7.4)(0.018,9.8)(0.024,7)(0.030,8)(0.035,6)(0.040,5)(0.050,4.6)(0.060,4)(0.070,4.5)(0.080,3)(0.088,2.3)(0.092,4)(0.096,2)(0.102,3)(0.106,9)(0.110,15)(0.113,9)(0.117,3.5)(0.125,2.5)(0.140,1.5)(0.160,0.8)(0.180,0.8)(0.200,1)(0.206,4)(0.211,12.8)(0.214,9)(0.217,11)(0.220,8)(0.222,10.5)(0.227,5)(0.235,3)(0.250,2)(0.270,1.2)(0.290,1.2)(0.310,1.5)(0.314,6)(0.318,14)(0.321,9)(0.323,11)(0.328,5)(0.338,2.5)(0.360,1.2)(0.390,1.2)(0.405,1.5)(0.410,6)(0.414,13.5)(0.418,11.5)(0.424,7)(0.434,3.5)(0.455,2.3)(0.480,1.5)(0.500,2)(0.508,5)(0.511,11.6)(0.517,15.8)(0.522,9.3)(0.533,4.6)(0.556,2.3)(0.600,1.2)(0.611,3.5)(0.618,8)(0.625,7)(0.639,5)(0.667,2.8)(0.711,1.6)(0.720,3)(0.726,7)(0.734,5)(0.745,5.8)(0.767,3.5)(0.800,2.3)(0.806,5)(0.810,11)(0.817,10.5)(0.825,5.8)(0.845,3.5)(0.878,1.6)(0.900,1.9)(0.909,8)(0.914,5.8)(0.920,8)(0.934,6.5)(0.962,3.5)(0.990,2.3)(1.000,1.9)};
\yd{y/d=14}
\end{axis}

% ---------- panel 15 ----------
\begin{axis}[panel, at={(107pt,85pt)},
  xticklabel={\scalebox{1.22}[1]{\pgfmathprintnumber[fixed,fixed zerofill,precision=2,use comma]{\tick}}}]
\addplot[sig] coordinates {(0,1.6)(0.004,4)(0.008,7.4)(0.013,10.8)(0.018,9.5)(0.024,10)(0.030,8)(0.036,6.2)(0.045,3.9)(0.055,3.5)(0.067,2.8)(0.080,2.5)(0.093,2)(0.102,3.9)(0.108,8)(0.111,14.3)(0.114,10)(0.117,9.7)(0.121,11)(0.124,10)(0.128,7)(0.132,6.2)(0.142,5)(0.154,5)(0.165,4.5)(0.180,3.9)(0.198,2.8)(0.207,7.4)(0.211,9)(0.214,9.7)(0.218,8)(0.223,8.5)(0.228,7.5)(0.232,9.7)(0.240,7)(0.246,6.2)(0.256,5)(0.268,3.9)(0.280,3.5)(0.294,2.8)(0.305,3)(0.312,5)(0.316,9)(0.319,13)(0.322,11)(0.325,10.8)(0.330,7)(0.334,6.2)(0.345,4)(0.356,2.8)(0.375,2.5)(0.400,2.3)(0.410,4)(0.417,5)(0.424,9)(0.430,11.5)(0.436,7)(0.443,5)(0.452,3.5)(0.461,2.3)(0.480,2)(0.505,1.6)(0.511,4)(0.514,7.4)(0.518,11)(0.520,13)(0.524,11)(0.527,9.7)(0.531,11)(0.536,10)(0.542,6)(0.549,5)(0.560,3.5)(0.575,2.3)(0.590,1.5)(0.610,0.9)(0.630,1.5)(0.645,2.5)(0.649,3.9)(0.655,2)(0.662,2.3)(0.680,2.8)(0.697,2.8)(0.710,3.5)(0.715,3.9)(0.720,7)(0.724,9.7)(0.731,12)(0.735,9)(0.741,8.5)(0.750,5)(0.759,3.9)(0.776,1.6)(0.800,2)(0.820,2.8)(0.828,5)(0.834,8.5)(0.843,9.7)(0.850,9)(0.860,7.4)(0.868,6)(0.877,4.6)(0.890,3.5)(0.908,2.8)(0.920,4)(0.930,6.2)(0.935,8)(0.939,9.2)(0.945,8)(0.952,7.4)(0.960,5.5)(0.969,3.9)(0.987,2.3)(1.000,2)};
\yd{y/d=15}
\end{axis}

% ---------- titles and axis names ----------
\node[font=\bfseries\fontsize{30}{30}\selectfont] at (406,1026) {Sinyal Tipi :T3};
\node[font=\bfseries\fontsize{30}{30}\selectfont] at (405,21) {Zaman [s]};
\node[font=\bfseries\fontsize{30}{30}\selectfont, rotate=90] at (26,554) {Anlık Hız [m/s]};
\node[font=\fontsize{24}{24}\selectfont, rotate=90] at (58,1205) {Genlik (V)};
\node[font=\fontsize{24}{24}\selectfont] at (423,1103) {Zaman geçmişi (ms)};
\end{tikzpicture}
\end{document}
